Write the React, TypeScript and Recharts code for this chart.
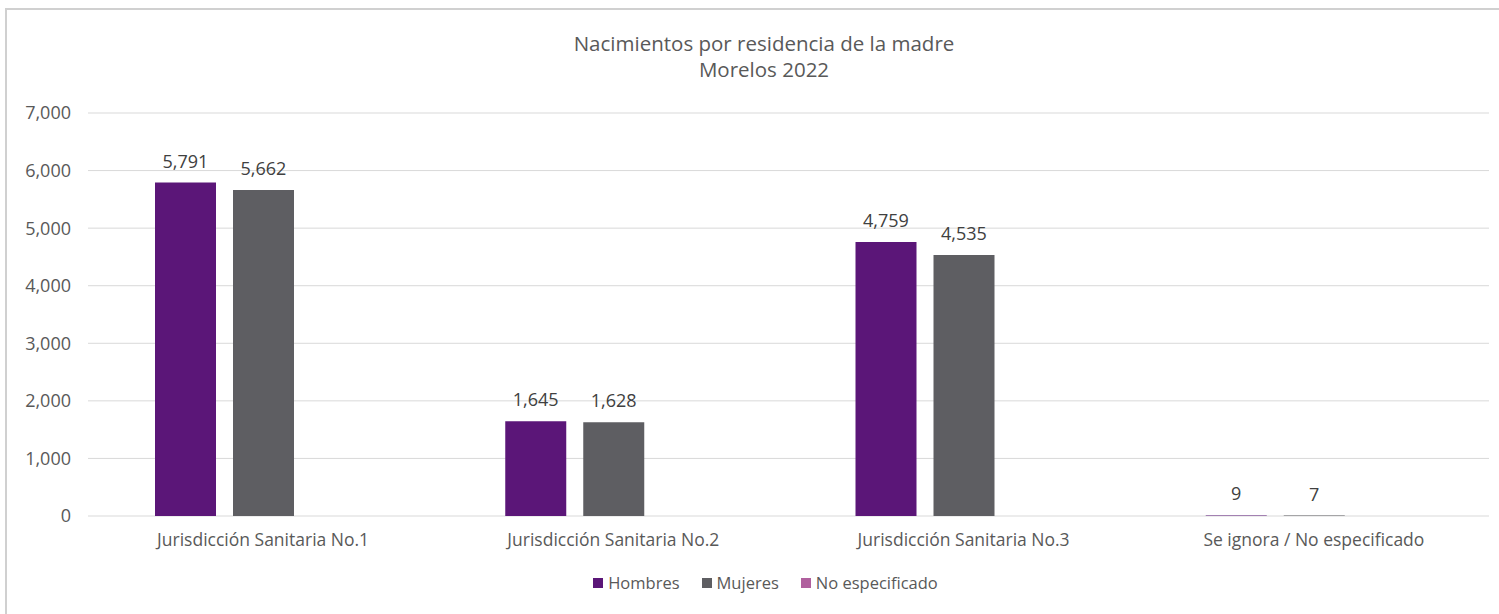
import React from "react";
import { BarChart, Bar, XAxis, YAxis, CartesianGrid, Legend, LabelList } from "recharts";

const categories = [
  "Jurisdicción Sanitaria No.1",
  "Jurisdicción Sanitaria No.2",
  "Jurisdicción Sanitaria No.3",
  "Se ignora / No especificado",
];
const hombres = [5791, 1645, 4759, 9];
const mujeres = [5662, 1628, 4535, 7];
const noEspecificado: (number | null)[] = [null, null, null, null];
const yTicks = [0, 1000, 2000, 3000, 4000, 5000, 6000, 7000];
const titleLines = ["Nacimientos por residencia de la madre", "Morelos 2022"];

const seriesInfo = [
  { key: "hombres", name: "Hombres", color: "#5B1678" },
  { key: "mujeres", name: "Mujeres", color: "#5E5E62" },
  { key: "noEspecificado", name: "No especificado", color: "#B0609E" },
];

const data = categories.map((c, i) => ({
  name: c,
  hombres: hombres[i],
  mujeres: mujeres[i],
  noEspecificado: noEspecificado[i],
}));

const FONT = "'Open Sans', 'Liberation Sans', sans-serif";
const fmt = (v: any) => (v === null || v === undefined ? "" : Number(v).toLocaleString("en-US"));

const LegendContent = () => (
  <div style={{ display: "flex", justifyContent: "center", alignItems: "center", fontFamily: FONT, fontSize: 16.5, color: "#595959", paddingLeft: 64 }}>
    {seriesInfo.map((s) => (
      <div key={s.key} style={{ display: "flex", alignItems: "center", marginRight: 22 }}>
        <span style={{ width: 10, height: 10, background: s.color, display: "inline-block", marginRight: 5 }} />
        <span>{s.name}</span>
      </div>
    ))}
  </div>
);

export default function App() {
  return (
    <div style={{ position: "absolute", left: 0, top: 0, width: 1499, height: 614, overflow: "hidden", background: "#fff" }}>
      <div style={{ position: "absolute", left: 5, top: 8, width: 1520, height: 700, border: "2px solid #d0d0d0", boxSizing: "border-box" }} />
      <div style={{ position: "absolute", left: 5, width: 1518, top: 30, textAlign: "center", fontFamily: FONT, fontSize: 20.5, lineHeight: "26px", color: "#595959" }}>
        {titleLines.map((t) => (
          <div key={t}>{t}</div>
        ))}
      </div>
      <div style={{ position: "absolute", left: 0, top: 0 }}>
        <BarChart
          width={1499}
          height={614}
          data={data}
          margin={{ top: 113, right: 10, bottom: 13, left: 0 }}
          barGap={17}
          barSize={61}
        >
          <CartesianGrid vertical={false} stroke="#d9d9d9" strokeWidth={1} />
          <XAxis
            dataKey="name"
            axisLine={false}
            tickLine={false}
            tickSize={0}
            tickMargin={18}
            height={55}
            interval={0}
            tick={{ fill: "#595959", fontSize: 17.5, fontFamily: FONT }}
          />
          <YAxis
            width={88}
            domain={[0, 7000]}
            ticks={yTicks}
            axisLine={false}
            tickLine={false}
            tickSize={0}
            tickMargin={17}
            tickFormatter={fmt}
            tick={{ fill: "#595959", fontSize: 18, fontFamily: FONT }}
          />
          <Legend verticalAlign="bottom" height={30} content={<LegendContent />} />
          {seriesInfo.map((s) => (
            <Bar key={s.key} dataKey={s.key} name={s.name} fill={s.color} isAnimationActive={false}>
              <LabelList
                dataKey={s.key}
                position="top"
                offset={15}
                formatter={fmt}
                style={{ fill: "#404040", fontSize: 18, fontFamily: FONT }}
              />
            </Bar>
          ))}
        </BarChart>
      </div>
    </div>
  );
}
